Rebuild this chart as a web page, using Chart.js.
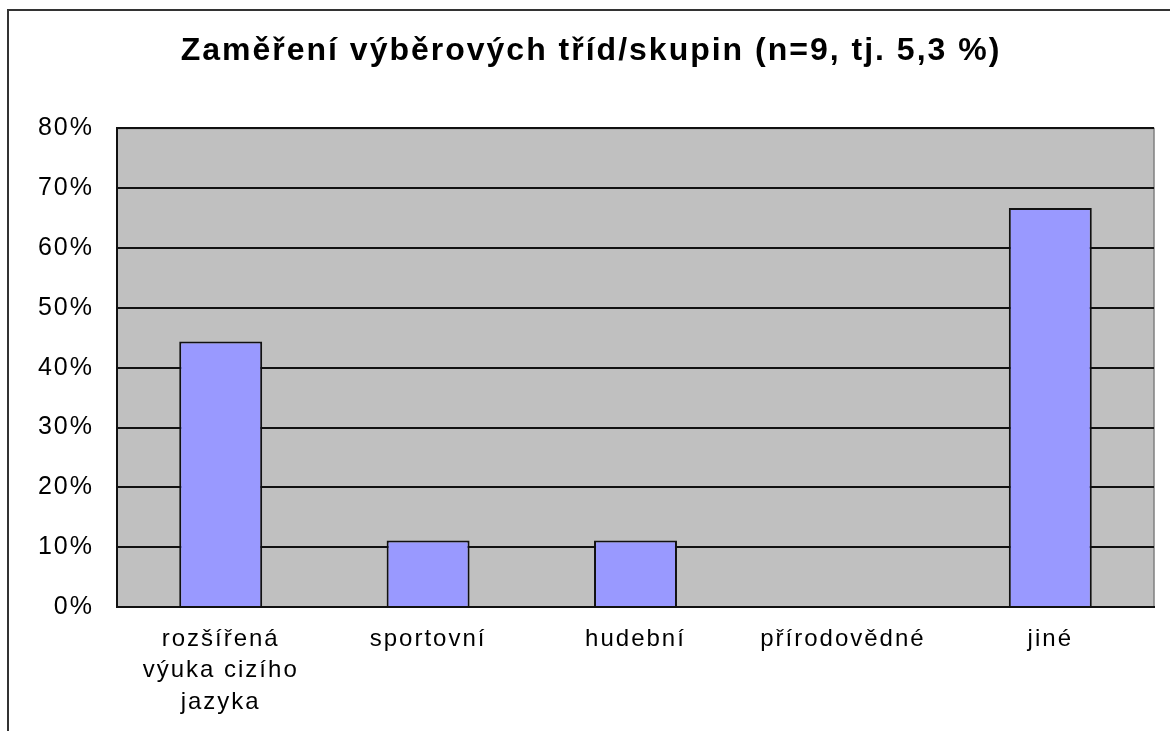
<!DOCTYPE html>
<html>
<head>
<meta charset="utf-8">
<script src="https://cdn.jsdelivr.net/npm/chart.js@4/dist/chart.umd.min.js"></script>
<style>
  body { margin: 0; background: #fff; overflow: hidden; }
  #frame { position: absolute; left: 7px; top: 9px; width: 1300px; height: 900px;
           border-left: 2px solid #333; border-top: 2px solid #333; }
  #wrap { position: absolute; left: 0; top: 0; width: 1170px; height: 731px; }
</style>
</head>
<body>
<div id="frame"></div>
<div id="wrap"><canvas id="chart"></canvas></div>
<script>
// data
var categories = [
  ["rozšířená", "výuka cizího", "jazyka"],
  "sportovní",
  "hudební",
  "přírodovědné",
  "jiné"
];
var shares = [44.4, 11.1, 11.1, 0, 66.7];
var yTicks = [0, 10, 20, 30, 40, 50, 60, 70, 80];

// the original text is a bit wider than Arial, spread letters a little
var wideText = {
  id: 'wideText',
  beforeUpdate: function(chart) { chart.ctx.letterSpacing = '2px'; },
  beforeDraw: function(chart) { chart.ctx.letterSpacing = '2px'; }
};

var plotBackground = {
  id: 'plotBackground',
  beforeDraw: function(chart) {
    var a = chart.chartArea, ctx = chart.ctx;
    ctx.save();
    ctx.fillStyle = '#c0c0c0';
    ctx.fillRect(a.left, a.top, a.right - a.left, a.bottom - a.top);
    ctx.strokeStyle = '#808080';
    ctx.lineWidth = 1.5;
    ctx.beginPath();
    ctx.moveTo(a.left, a.top);
    ctx.lineTo(a.right, a.top);
    ctx.lineTo(a.right, a.bottom);
    ctx.stroke();
    ctx.restore();
  }
};

var ctx = document.getElementById('chart').getContext('2d');
var myChart = new Chart(ctx, {
  type: 'bar',
  data: {
    labels: categories,
    datasets: [{
      data: shares,
      backgroundColor: '#9999ff',
      borderColor: '#111',
      borderWidth: 2,
      borderSkipped: 'start',
      categoryPercentage: 1,
      barPercentage: 0.4
    }]
  },
  options: {
    responsive: true,
    maintainAspectRatio: false,
    animation: false,
    layout: { padding: { left: 28, right: 16, bottom: 0 } },
    scales: {
      y: {
        min: 0,
        max: 80,
        afterBuildTicks: function(axis) {
          axis.ticks = yTicks.map(function(v) { return { value: v }; });
        },
        afterFit: function(axis) { axis.width = 89; },
        grid: { color: '#111', lineWidth: 2, drawTicks: false },
        border: { color: '#111', width: 2 },
        ticks: {
          padding: 23,
          color: '#000',
          font: { family: 'Liberation Sans, Arial', size: 25 },
          callback: function(v) { return v + '%'; }
        }
      },
      x: {
        afterFit: function(axis) { axis.height = 124; },
        grid: { display: false, drawTicks: false },
        border: { color: '#111', width: 2 },
        ticks: {
          padding: 17,
          maxRotation: 0,
          autoSkip: false,
          color: '#000',
          font: { family: 'Liberation Sans, Arial', size: 24, lineHeight: 1.3 }
        }
      }
    },
    plugins: {
      legend: { display: false },
      tooltip: { enabled: false },
      title: {
        display: true,
        text: 'Zaměření výběrových tříd/skupin (n=9, tj. 5,3 %)',
        color: '#000',
        font: { family: 'Liberation Sans, Arial', size: 32, weight: 'bold', lineHeight: 1.2 },
        padding: { top: 32, bottom: 58 }
      }
    }
  },
  plugins: [wideText, plotBackground]
});
</script>
</body>
</html>
